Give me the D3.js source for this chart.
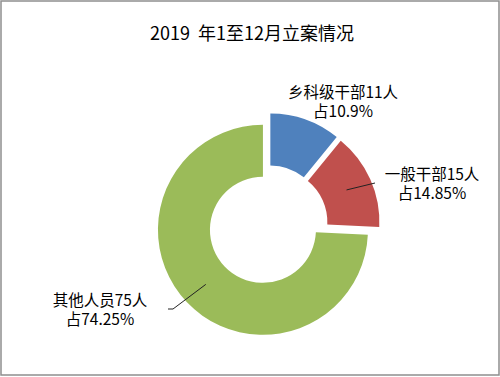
<!DOCTYPE html>
<html lang="zh">
<head>
<meta charset="utf-8">
<title>2019 年1至12月立案情况</title>
<script src="https://cdn.jsdelivr.net/npm/d3@7"></script>
<style>
  body { margin: 0; background: #fff; }
  svg { font-family: "Noto Sans CJK SC", "Noto Sans", sans-serif; }
</style>
</head>
<body>
<svg id="chart"></svg>
<script>
// data
var categories = ["乡科级干部", "一般干部", "其他人员"];
var counts = [11, 15, 75];
var shares = ["10.9%", "14.85%", "74.25%"];
var colors = ["#4F81BD", "#C0504D", "#9BBB59"];

var svgWidth = 500, svgHeight = 377;
var cx = 268, cy = 225;
var outerR = 105, innerR = 53, explode = 7;

var svg = d3.select("#chart")
    .attr("width", svgWidth)
    .attr("height", svgHeight);

// frame
svg.append("rect")
    .attr("x", 1).attr("y", 1)
    .attr("width", svgWidth - 2).attr("height", svgHeight - 3)
    .attr("fill", "#fff")
    .attr("stroke", "#8e8e8e")
    .attr("stroke-width", 1.5);

// title
svg.append("text")
    .attr("x", 252)
    .attr("y", 40)
    .attr("text-anchor", "middle")
    .style("font-size", "18px")
    .style("white-space", "pre")
    .attr("fill", "#000")
    .text("2019\u00a0 年1至12月立案情况");

var pie = d3.pie().sort(null).value(function(d) { return d; });
var arcs = pie(counts);

var arc = d3.arc().innerRadius(innerR).outerRadius(outerR);

var g = svg.append("g")
    .attr("transform", "translate(" + cx + "," + cy + ")");

function offset(d) {
  var mid = (d.startAngle + d.endAngle) / 2;
  return [explode * Math.sin(mid), -explode * Math.cos(mid)];
}

g.selectAll("path.slice")
    .data(arcs)
    .enter()
    .append("path")
    .attr("class", "slice")
    .attr("d", arc)
    .attr("fill", function(d, i) { return colors[i]; })
    .attr("transform", function(d) {
      return "translate(" + offset(d) + ")";
    });

// label layout (relative to chart centre); lead = end point of leader line
var labelPos = [
  { x: 75, y: -127, lead: null },
  { x: 164, y: -45, lead: [[107, -42]] },
  { x: -168, y: 81, lead: [[-95, 84], [-100, 84]] }
];

arcs.forEach(function(d, i) {
  var p = labelPos[i];
  if (p.lead) {
    var c = arc.centroid(d), o = offset(d);
    var pts = [[c[0] + o[0], c[1] + o[1]]].concat(p.lead);
    g.append("path")
      .attr("d", d3.line()(pts))
      .attr("fill", "none")
      .attr("stroke", "#222")
      .attr("stroke-width", 1);
  }
  var t = g.append("text")
    .attr("text-anchor", "middle")
    .attr("fill", "#000")
    .style("font-size", "15.5px");
  t.append("tspan")
    .attr("x", p.x).attr("y", p.y)
    .text(categories[i] + counts[i] + "人");
  t.append("tspan")
    .attr("x", p.x).attr("y", p.y + 19)
    .text("占" + shares[i]);
});
</script>
</body>
</html>
